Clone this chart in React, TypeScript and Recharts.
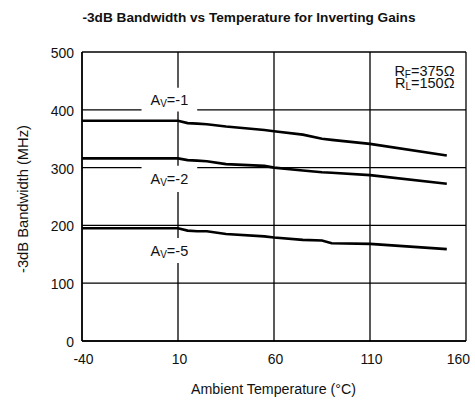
import React from "react";
import {
  CartesianGrid,
  Line,
  LineChart,
  ReferenceArea,
  ReferenceDot,
  XAxis,
  YAxis,
} from "recharts";

const temps = [-40, 10, 15, 20, 25, 35, 55, 60, 75, 85, 90, 110, 150];
const gain1 = [381, 381, 377, 376, 375, 371, 365, 363, 357, 350, 348, 341, 321];
const gain2 = [316, 316, 313, 312, 311, 306, 303, 300, 295, 292, 291, 287, 272];
const gain5 = [195, 195, 191, 190, 190, 185, 181, 179, 175, 174, 169, 168, 159];
const xTicks = [-40, 10, 60, 110, 160];
const yTicks = [0, 100, 200, 300, 400, 500];

const FONT = "'Liberation Sans', Arial, sans-serif";
const INK = "#111";

const chartData = temps.map((t, i) => ({
  temp: t,
  g1: gain1[i],
  g2: gain2[i],
  g5: gain5[i],
}));

// Helvetica Condensed look-alike: squeeze Liberation Sans a bit
function XTick({ x, y, payload, index }: any) {
  const last = index === xTicks.length - 1;
  return (
    <g transform={`translate(${last ? x + 7 : x + 1.5},${y + 21}) scale(0.9,1)`}>
      <text x={0} y={0} textAnchor={last ? "end" : "middle"} fontFamily={FONT} fontSize={15.5} fill={INK}>
        {payload.value}
      </text>
    </g>
  );
}

function YTick({ x, y, payload }: any) {
  return (
    <g transform={`translate(${x - 6},${y + 6}) scale(0.9,1)`}>
      <text x={0} y={0} textAnchor="end" fontFamily={FONT} fontSize={15.5} fill={INK}>
        {payload.value}
      </text>
    </g>
  );
}

function gainLabel(gain: string) {
  return ({ viewBox }: any) => {
    const cx = viewBox.x + viewBox.width / 2;
    const cy = viewBox.y + viewBox.height / 2;
    return (
      <text x={cx} y={cy + 5} textAnchor="middle" fontFamily={FONT} fontSize={14.5} fill={INK}>
        A
        <tspan fontSize={10} dy={2.5}>V</tspan>
        <tspan dy={-2.5}>={gain}</tspan>
      </text>
    );
  };
}

function resistorLabel({ viewBox }: any) {
  const x = viewBox.x;
  const y = viewBox.y;
  return (
    <text x={x} y={y} textAnchor="end" fontFamily={FONT} fontSize={14.5} fill={INK}>
      <tspan x={x}>
        R<tspan fontSize={10} dy={2}>F</tspan>
        <tspan dy={-2}>=375Ω</tspan>
      </tspan>
      <tspan x={x} dy={11.6}>
        R<tspan fontSize={10} dy={2}>L</tspan>
        <tspan dy={-2}>=150Ω</tspan>
      </tspan>
    </text>
  );
}

export default function App() {
  return (
    <div style={{ position: "absolute", left: 0, top: 0, width: 475, height: 401, background: "#fff" }}>
      <svg width={475} height={30} style={{ position: "absolute", left: 0, top: 0 }}>
        <text
          x={249}
          y={21.7}
          textAnchor="middle"
          fontFamily={FONT}
          fontWeight="bold"
          fontSize={12.2}
          fill={INK}
          textLength={333}
          lengthAdjust="spacingAndGlyphs"
        >
          -3dB Bandwidth vs Temperature for Inverting Gains
        </text>
      </svg>
      <LineChart
        width={475}
        height={401}
        data={chartData}
        margin={{ top: 52, right: 9, bottom: 0, left: 0 }}
        style={{ position: "absolute", left: 0, top: 0 }}
      >
        <CartesianGrid stroke="#000" strokeWidth={1.3} />
        <XAxis
          dataKey="temp"
          type="number"
          domain={[-40, 160]}
          ticks={xTicks}
          height={60}
          tickSize={0}
          stroke="#000"
          strokeWidth={1.5}
          tick={<XTick />}
          label={{
            content: ({ viewBox }: any) => (
              <text
                x={273.5}
                y={viewBox.y + 52.5}
                textAnchor="middle"
                fontFamily={FONT}
                fontSize={15.5}
                fill={INK}
                textLength={165}
                lengthAdjust="spacingAndGlyphs"
              >
                Ambient Temperature (°C)
              </text>
            ),
          }}
        />
        <YAxis
          type="number"
          domain={[0, 500]}
          ticks={yTicks}
          width={82}
          tickSize={0}
          stroke="#000"
          strokeWidth={1.5}
          tick={<YTick />}
          label={{
            content: ({ viewBox }: any) => {
              const x = viewBox.x + 27.5;
              const y = 199;
              return (
                <text
                  x={x}
                  y={y}
                  transform={`rotate(-90 ${x} ${y})`}
                  textAnchor="middle"
                  fontFamily={FONT}
                  fontSize={15.5}
                  fill={INK}
                  textLength={148}
                  lengthAdjust="spacingAndGlyphs"
                >
                  -3dB Bandwidth (MHz)
                </text>
              );
            },
          }}
        />
        <ReferenceArea x1={-9} x2={20} y1={397} y2={438} fill="#fff" fillOpacity={1} stroke="none" label={{ content: gainLabel("-1") }} />
        <ReferenceArea x1={-9} x2={20} y1={258} y2={303} fill="#fff" fillOpacity={1} stroke="none" label={{ content: gainLabel("-2") }} />
        <ReferenceArea x1={-9} x2={20} y1={135} y2={178} fill="#fff" fillOpacity={1} stroke="none" label={{ content: gainLabel("-5") }} />
        <ReferenceDot x={154} y={458} r={0} fill="none" stroke="none" label={{ content: resistorLabel }} />
        <Line type="linear" dataKey="g1" stroke="#000" strokeWidth={2.6} dot={false} isAnimationActive={false} />
        <Line type="linear" dataKey="g2" stroke="#000" strokeWidth={2.6} dot={false} isAnimationActive={false} />
        <Line type="linear" dataKey="g5" stroke="#000" strokeWidth={2.6} dot={false} isAnimationActive={false} />
      </LineChart>
    </div>
  );
}
